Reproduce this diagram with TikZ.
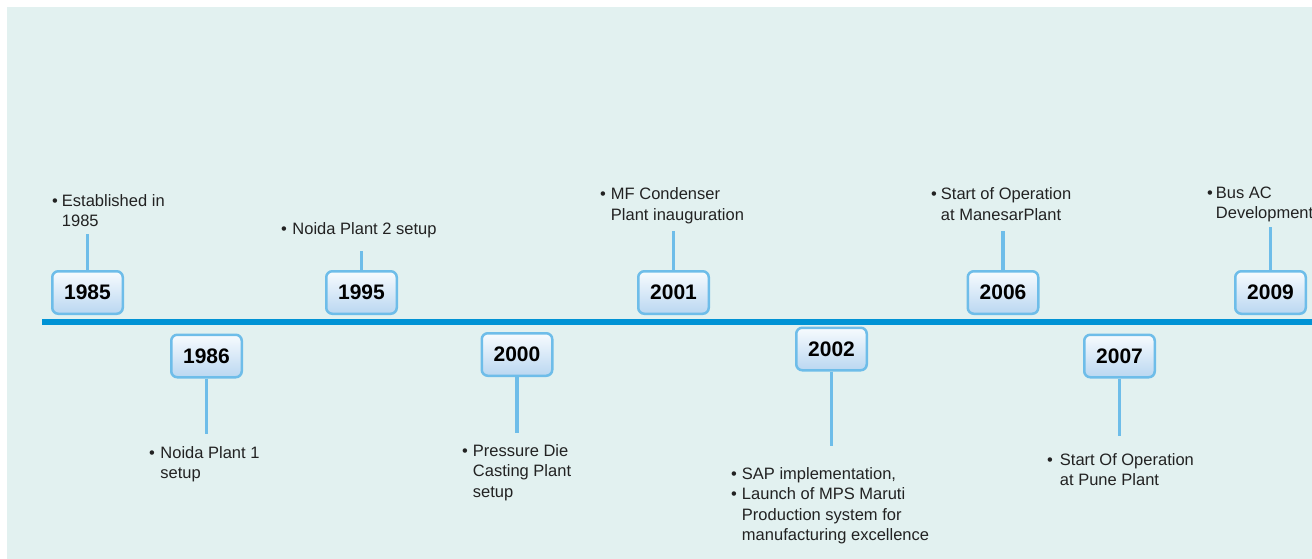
\documentclass[tikz,border=0pt]{standalone}
\usepackage{fontspec}
\setmainfont{Liberation Sans}
\usepackage{xcolor}
\usetikzlibrary{positioning}
\definecolor{bgmint}{HTML}{E2F1F0}
\definecolor{lineblue}{HTML}{0093D5}
\definecolor{stemblue}{HTML}{6EBDE9}
\definecolor{boxtop}{HTML}{F7FBFE}
\definecolor{boxbot}{HTML}{BAD7F1}
\definecolor{notegray}{HTML}{222222}

\begin{document}
\begin{tikzpicture}[x=1pt, y=-1pt,
    yearbox/.style={draw=stemblue, line width=2.5pt, rounded corners=6pt, top color=boxtop, bottom color=boxbot, minimum width=70.5pt, minimum height=42.5pt, inner sep=0pt, font=\fontsize{21}{24}\selectfont\bfseries, text=black},
    stem/.style={draw=stemblue, line width=3.5pt},
    timeline/.style={draw=lineblue, line width=6pt},
    note/.style={anchor=base west, inner sep=0pt, text=notegray, font=\fontsize{16.5}{20.5}\selectfont}]
    \useasboundingbox (0,0) rectangle (1312,559);
    \fill[white] (0,0) rectangle (1312,559);
    \fill[bgmint] (7,7) rectangle (1312,559);
    % main line
    \coordinate (tl-start) at (42,322);
    \coordinate (tl-end) at (1312,322);
    \draw[timeline] (tl-start) -- (tl-end);
    % years above the line
    \node[yearbox] (y1985) at (87.5,292.5) {1985};
    \node[yearbox] (y1995) at (361.5,292.5) {1995};
    \node[yearbox] (y2001) at (673.5,292.5) {2001};
    \node[yearbox] (y2006) at (1003,292.5) {2006};
    \node[yearbox] (y2009) at (1270.5,292.5) {2009};
    % years below the line
    \node[yearbox] (y1986) at (206.5,356) {1986};
    \node[yearbox] (y2000) at (517,354.5) {2000};
    \node[yearbox] (y2002) at (831.5,349) {2002};
    \node[yearbox] (y2007) at (1119.5,356) {2007};
    % notes
    \node[note] (n1985) at (52,206) {\begin{tabular}[t]{@{}l@{\hspace{4pt}}l@{}}\textbullet & Established in\\ & 1985\end{tabular}};
    \node[note] (n1995) at (281,234) {\begin{tabular}[t]{@{}l@{\hspace{5.5pt}}l@{}}\textbullet & Noida Plant 2 setup\end{tabular}};
    \node[note] (n2001) at (600,200) {\begin{tabular}[t]{@{}l@{\hspace{5pt}}l@{}}\textbullet & MF Condenser\\ & Plant inauguration\end{tabular}};
    \node[note] (n2006) at (931,200) {\begin{tabular}[t]{@{}l@{\hspace{4pt}}l@{}}\textbullet & Start of Operation\\ & at ManesarPlant\end{tabular}};
    \node[note] (n2009) at (1207,198) {\begin{tabular}[t]{@{}l@{\hspace{3pt}}l@{}}\textbullet & Bus AC\\ & Development\end{tabular}};
    \node[note] (n1986) at (149,458) {\begin{tabular}[t]{@{}l@{\hspace{5.5pt}}l@{}}\textbullet & Noida Plant 1\\ & setup\end{tabular}};
    \node[note] (n2000) at (462,456) {\begin{tabular}[t]{@{}l@{\hspace{5pt}}l@{}}\textbullet & Pressure Die\\ & Casting Plant\\ & setup\end{tabular}};
    \node[note] (n2002) at (731,479) {\begin{tabular}[t]{@{}l@{\hspace{5pt}}l@{}}\textbullet & SAP implementation,\\ \textbullet & Launch of MPS Maruti\\ & Production system for\\ & manufacturing excellence\end{tabular}};
    \node[note] (n2007) at (1047,465) {\begin{tabular}[t]{@{}l@{\hspace{7pt}}l@{}}\textbullet & Start Of Operation\\ & at Pune Plant\end{tabular}};
    % stems
    \draw[stem, shorten >=1.5pt] (y1985.north) -- (y1985.north |- n1985.south);
    \draw[stem, shorten >=11pt] (y1995.north) -- (y1995.north |- n1995.south);
    \draw[stem, shorten >=4pt] (y2001.north) -- (y2001.north |- n2001.south);
    \draw[stem, shorten >=4pt] (y2006.north) -- (y2006.north |- n2006.south);
    \draw[stem, shorten >=2pt] (y2009.north) -- (y2009.north |- n2009.south);
    \draw[stem, shorten >=9.5pt] (y1986.south) -- (y1986.south |- n1986.north);
    \draw[stem, shorten >=8.5pt] (y2000.south) -- (y2000.south |- n2000.north);
    \draw[stem, shorten >=18.5pt] (y2002.south) -- (y2002.south |- n2002.north);
    \draw[stem, shorten >=14.5pt] (y2007.south) -- (y2007.south |- n2007.north);
\end{tikzpicture}
\end{document}
